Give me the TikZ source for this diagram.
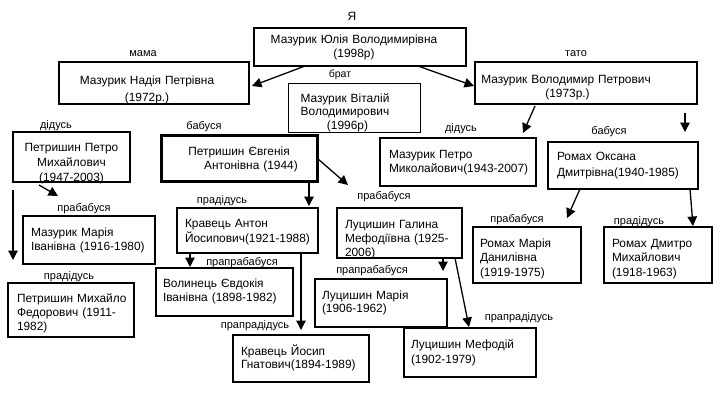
\documentclass[tikz,border=0pt]{standalone}
\usepackage{fontspec}
\setmainfont{Liberation Sans}
\usetikzlibrary{arrows.meta,calc}
\newcommand\famfs[1]{\fontsize{11.9pt}{#1pt}\selectfont\exhyphenpenalty=10000\hyphenpenalty=10000\relax}
\begin{document}
\begin{tikzpicture}[x=1pt,y=-1pt,
  fam/.style={draw, line width=1.8pt, anchor=north west, inner ysep=0pt, outer sep=0pt},
  lab/.style={font=\fontsize{11pt}{13pt}\selectfont, inner sep=0pt, anchor=base},
  arr/.style={line width=1.3pt, -{Triangle[length=9.5pt,width=9.5pt]}}]
\fill[white] (0,0) rectangle (720,405);
\useasboundingbox (0,0) rectangle (720,405);

% boxes
\node[fam, line width=2pt, inner xsep=4pt, text width=204pt, text height=15pt, text depth=23pt, align=center, font={\famfs{14}}] (yulia) at (254,28) {\hspace*{-12pt}Мазурик Юлія Володимирівна\\\hspace*{-12pt}(1998р)};
\node[fam, inner xsep=4pt, text width=182pt, text height=22pt, text depth=20pt, align=center, font={\famfs{17}}] (nadia) at (59,62) {\hspace*{-14pt}Мазурик Надія Петрівна\\\hspace*{-14pt}(1972р.)};
\node[fam, line width=0.9pt, inner xsep=4pt, text width=124pt, text height=19pt, text depth=30pt, align=center, font={\famfs{13.5}}] (brother) at (288,83) {\hspace*{-18pt}Мазурик Віталій\\\hspace*{-18pt}Володимирович\\\hspace*{-13pt}(1996р)};
\node[fam, inner xsep=4pt, text width=214pt, text height=21pt, text depth=21pt, align=center, font={\famfs{14}}] (volodymyr) at (475,62) {\hspace*{-40pt}Мазурик~Володимир~Петрович\\\hspace*{-37pt}(1973р.)};
\node[fam, inner xsep=4pt, text width=109pt, text height=19pt, text depth=31pt, align=center, font={\famfs{15}}] (petroM) at (13,132) {Петришин Петро\\Михайлович\\(1947-2003)};
\node[fam, line width=3pt, inner xsep=4pt, text width=148pt, text height=20pt, text depth=26pt, align=center, font={\famfs{14}}] (yevheniia) at (161,135) {Петришин Євгенія\\\hspace*{24pt}Антонівна (1944)};
\node[fam, inner xsep=9pt, text width=138pt, text height=20pt, text depth=28pt, align=left, font={\famfs{14}}] (petroMyk) at (380,138) {Мазурик~Петро\\Миколайович(1943-2007)};
\node[fam, inner xsep=9pt, text width=132pt, text height=18pt, text depth=29pt, align=left, font={\famfs{16}}] (oksana) at (548,142) {Ромах~Оксана\\Дмитрівна(1940-1985)};
\node[fam, inner xsep=8pt, text width=116pt, text height=20pt, text depth=28pt, align=left, font={\famfs{14}}] (mariaM) at (23,216) {Мазурик~Марія\\Іванівна~(1916-1980)};
\node[fam, inner xsep=9pt, text width=108pt, text height=19pt, text depth=35pt, align=left, font={\famfs{14}}] (mykhailo) at (8,283) {Петришин~Михайло\\Федорович~(1911-\\1982)};
\node[fam, line width=2.5pt, inner xsep=8pt, text width=125pt, text height=19pt, text depth=26pt, align=left, font={\famfs{15}}] (anton) at (177,208) {Кравець~Антон\\Йосипович(1921-1988)};
\node[fam, inner xsep=7pt, text width=123pt, text height=19pt, text depth=29pt, align=left, font={\famfs{14}}] (volynets) at (156,268) {Волинець~Євдокія\\Іванівна~(1898-1982)};
\node[fam, inner xsep=8pt, text width=120pt, text height=20pt, text depth=27pt, align=left, font={\famfs{13.5}}] (yosyp) at (233,335) {Кравець~Йосип\\Гнатович(1894-1989)};
\node[fam, inner xsep=8pt, text width=109pt, text height=20pt, text depth=30pt, align=left, font={\famfs{14}}] (halyna) at (337,208) {Луцишин~Галина\\Мефодіївна~(1925-\\2006)};
\node[fam, inner xsep=7pt, text width=118pt, text height=20pt, text depth=28pt, align=left, font={\famfs{13.5}}] (mariaL) at (315,279) {Луцишин~Марія\\(1906-1962)};
\node[fam, inner xsep=7pt, text width=118pt, text height=20pt, text depth=29pt, align=left, font={\famfs{15}}] (mefodii) at (404,328) {Луцишин~Мефодій\\(1902-1979)};
\node[fam, inner xsep=7pt, text width=94pt, text height=20pt, text depth=36pt, align=left, font={\famfs{14.5}}] (mariaR) at (473,227) {Ромах~Марія\\Данилівна\\(1919-1975)};
\node[fam, inner xsep=8pt, text width=92pt, text height=20pt, text depth=36pt, align=left, font={\famfs{14.5}}] (dmytro) at (604,227) {Ромах~Дмитро\\Михайлович\\(1918-1963)};

% labels
\node[lab, font=\fontsize{12pt}{14pt}\selectfont] (lme) at (352,20) {Я};
\node[lab] (lmama) at (143,56) {мама};
\node[lab, font=\fontsize{10.5pt}{12pt}\selectfont] (lbrat) at (340,77) {брат};
\node[lab] (ltato) at (576,56) {тато};
\node[lab] (ldid1) at (56,128) {дідусь};
\node[lab] (lbab1) at (204,129) {бабуся};
\node[lab] (ldid2) at (461,131) {дідусь};
\node[lab] (lbab2) at (609,134) {бабуся};
\node[lab] (lpb1) at (84,211) {прабабуся};
\node[lab] (lpd1) at (69,279) {прадідусь};
\node[lab] (lpd2) at (222,203) {прадідусь};
\node[lab] (lppb1) at (242,265) {прапрабабуся};
\node[lab] (lppd1) at (255,328) {прапрадідусь};
\node[lab] (lpb2) at (384,199) {прабабуся};
\node[lab] (lppb2) at (372,273) {прапрабабуся};
\node[lab] (lppd2) at (519,320) {прапрадідусь};
\node[lab] (lpb3) at (517,222) {прабабуся};
\node[lab] (lpd3) at (639,224) {прадідусь};

% arrows
\draw[arr] ($(yulia.south west)+(51,0)$) -- ($(nadia.east)+(3,3)$);
\draw[arr] ($(yulia.south east)+(-48,0)$) -- ($(volodymyr.west)+(-1,3)$);
\draw[arr] ($(volodymyr.south west)+(60,2)$) -- ($(petroMyk.north west)+(143,-5)$);
\draw[arr] ($(volodymyr.south east)+(-12,9)$) -- ($(oksana.north east)+(-13,-10)$);
\draw[arr] ($(petroM.south west)+(26,3)$) -- ($(mariaM.north west)+(35,-20)$);
\draw[arr] ($(petroM.south west)+(0,8)$) -- ($(mykhailo.north west)+(5,-23)$);
\draw[arr] ($(yevheniia.east)+(1,1)$) -- ($(halyna.north west)+(11,-23)$);
\draw[arr] ($(yevheniia.south east)+(-8,0)$) -- ($(anton.north east)+(-9,-2)$);
\draw[arr] ($(anton.south west)+(13,0)$) -- ($(volynets.north west)+(34,-1)$);
\draw[arr] ($(anton.south east)+(-17,0)$) -- ($(yosyp.north west)+(68,-5)$);
\draw[arr] ($(halyna.south east)+(-19,0)$) -- ($(mariaL.north east)+(-4,-8)$);
\draw[arr] ($(halyna.south east)+(-7,0)$) -- ($(mefodii.north west)+(65,-1)$);
\draw[arr] ($(oksana.south west)+(32,0)$) -- ($(mariaR.north east)+(-14,-9)$);
\draw[arr] ($(oksana.south east)+(-8,0)$) -- ($(dmytro.north east)+(-19,-1)$);
\end{tikzpicture}
\end{document}
